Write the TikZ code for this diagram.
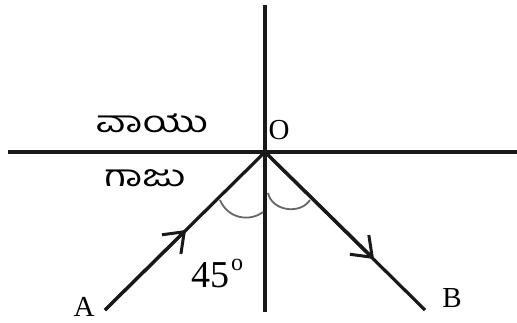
\documentclass[tikz,border=0pt]{standalone}
\usepackage{fontspec}
\setmainfont{Liberation Serif}
\newfontfamily\kn[Script=Kannada,FakeStretch=1.35]{Hind Mysuru}
\usetikzlibrary{arrows.meta}
\begin{document}
\begin{tikzpicture}[x=1pt,y=-1pt,
  axis/.style={line width=3.2pt, black!90},
  ray/.style={line width=3.2pt, black!90},
  rayarrow/.style={ray, -{Straight Barb[length=18pt,width=27pt,line width=3pt]}},
  anglearc/.style={line width=1.8pt, black!60},
  lbl/.style={font=\fontsize{29}{31}\selectfont, inner sep=0pt},
  knlbl/.style={font=\kn\fontsize{30}{32}\selectfont, inner sep=0pt}]
\useasboundingbox (0,0) rectangle (517,322);
\fill[white] (0,0) rectangle (517,322);
\coordinate (O) at (265,152);
\coordinate (top) at (265,5);
\coordinate (bot) at (265,312);
\coordinate (left) at (8,152);
\coordinate (right) at (517,152);
\coordinate (Aend) at (105,310);
\coordinate (Bend) at (425,310);
\coordinate (Amid) at (186,230);
\coordinate (Bmid) at (374,259);
\draw[axis] (top) -- (bot);
\draw[axis] (left) -- (right);
\draw[ray] (Aend) -- (O) -- (Bend);
\draw[rayarrow] (Aend) -- (Amid);
\draw[rayarrow] (O) -- (Bmid);
\coordinate (a1) at (220,200);
\coordinate (a2) at (263,212);
\coordinate (b1) at (268,193);
\coordinate (b2) at (310,200);
\draw[anglearc] (a1) .. controls (228,219) and (250,222) .. (a2);
\draw[anglearc] (b1) .. controls (272,211) and (300,215) .. (b2);
\node[lbl] (labO) at (279,130) {O};
\node[lbl] (labA) at (84,307) {A};
\node[lbl] (labB) at (452,298) {B};
\node[lbl, font=\fontsize{38}{40}\selectfont, anchor=base west] (lab45) at (191,287) {45\hspace{2pt}\raisebox{17pt}{\fontsize{24}{26}\selectfont o}};
\node[knlbl] (air) at (152,123) {ವಾಯು};
\node[knlbl] (glass) at (145,178) {ಗಾಜು};
\end{tikzpicture}
\end{document}
